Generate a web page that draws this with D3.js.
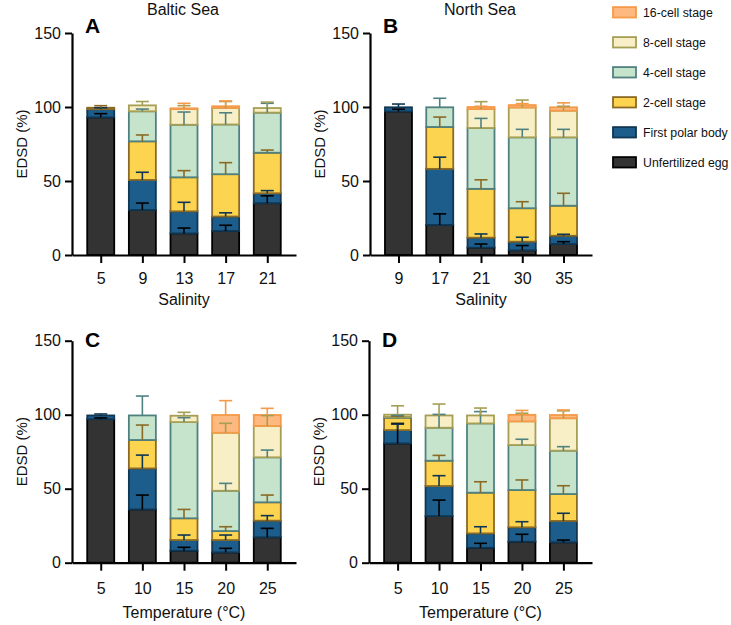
<!DOCTYPE html>
<html>
<head>
<meta charset="utf-8">
<script src="https://cdn.jsdelivr.net/npm/d3@7"></script>
<style>
  body { margin: 0; background: #fff; }
  svg { display: block; font-family: "Liberation Sans", Arial, sans-serif; }
</style>
</head>
<body>
<div id="chart"></div>
<script>
// stages, bottom to top
const stageNames = ["Unfertilized egg", "First polar body", "2-cell stage", "4-cell stage", "8-cell stage", "16-cell stage"];
const stageKeys = ["unf", "fpb", "c2", "c4", "c8", "c16"];
const stageFill = ["#333333", "#1d5d8c", "#fdd450", "#c6e3cc", "#f8efc6", "#fdb97f"];
const stageStroke = ["#000000", "#0f3652", "#8a6a24", "#4f8181", "#a59f55", "#f59a48"];

// categories
const salinityBaltic = ["5", "9", "13", "17", "21"];
const salinityNorth = ["9", "17", "21", "30", "35"];
const temperatures = ["5", "10", "15", "20", "25"];

// panel A: Baltic Sea, salinity (one row per stage)
const valuesA = [
  [93, 30.4, 14.6, 16.2, 35],
  [5.5, 20.3, 14.9, 9.8, 6.7],
  [1, 26.1, 23, 28.6, 27.4],
  [0, 20.3, 35.5, 33.6, 27.1],
  [0, 4, 10.6, 11.2, 3.1],
  [0, 0, 0.5, 1.1, 0]
];
const errorsA = [
  [2.5, 4.7, 3.6, 3.9, 5],
  [1, 5.2, 6.1, 2.5, 1.8],
  [1.4, 4.3, 4.5, 7.8, 1.8],
  [0, 1.5, 8.6, 7.9, 6.3],
  [0, 2.6, 2.3, 4.3, 4],
  [0, 0, 3.4, 3.6, 0]
];

// panel B: North Sea, salinity
const valuesB = [
  [97, 20.3, 5, 3.2, 7.4],
  [2.8, 37.9, 6.7, 5.8, 5.6],
  [0, 28.3, 33, 22.6, 20.3],
  [0, 13.3, 41.1, 47.9, 46.2],
  [0, 0, 12.8, 20.2, 18],
  [0, 0, 1.4, 1.6, 2.3]
];
const errorsB = [
  [1.5, 7.5, 2.4, 3.2, 1.6],
  [2.2, 7.9, 2.5, 3, 1],
  [0, 6.7, 6.1, 4.4, 8.4],
  [0, 6.1, 6.5, 5.4, 5.4],
  [0, 0, 5, 5, 3],
  [0, 0, 0.5, 1, 3]
];

// panel C: Baltic Sea, temperature
const valuesC = [
  [97, 36, 8.1, 7, 17.2],
  [2.5, 27.7, 7.2, 8.3, 11.2],
  [0, 19.2, 14.7, 6.1, 12.4],
  [0, 16.6, 65, 27.2, 30.4],
  [0, 0, 4.3, 39.2, 21.2],
  [0, 0, 0, 12, 7.4]
];
const errorsC = [
  [0.8, 9.7, 2.3, 2.7, 6],
  [1, 9, 3.4, 3.4, 3.4],
  [0, 10.1, 6, 2.9, 4.9],
  [0, 13.1, 3, 5, 4.9],
  [0, 0, 2.3, 6.4, 7],
  [0, 0, 0, 9.7, 4.5]
];

// panel D: North Sea, temperature
const valuesD = [
  [80.6, 31.5, 10.1, 14.2, 13.8],
  [9, 20.3, 9.7, 9.7, 14.4],
  [8.4, 17.1, 27.5, 25.2, 18.2],
  [0.5, 22.3, 46.8, 30.4, 29.3],
  [1.5, 8.3, 5.4, 16, 21.9],
  [0, 0, 0, 4.4, 2.2]
];
const errorsD = [
  [13.5, 10.8, 3, 5, 1.5],
  [4, 7, 4.5, 3.8, 5.2],
  [1, 3.6, 7.4, 6.8, 5.6],
  [1, 9, 8, 3.9, 2.7],
  [6, 7.7, 5, 5.5, 5],
  [0, 0, 0, 3, 3.4]
];

const yTicks = [0, 50, 100, 150];

const width = 731, height = 625;
const svg = d3.select("#chart").append("svg")
  .attr("width", width)
  .attr("height", height);

const panels = [
  { letter: "A", title: "Baltic Sea", xLabel: "Salinity", cats: salinityBaltic, values: valuesA, errors: errorsA,
    left: 72, right: 296, top: 33, bottom: 255, tickPad: 18, xLabelY: 305 },
  { letter: "B", title: "North Sea", xLabel: "Salinity", cats: salinityNorth, values: valuesB, errors: errorsB,
    left: 370, right: 592, top: 33, bottom: 255, tickPad: 18, xLabelY: 305 },
  { letter: "C", title: null, xLabel: "Temperature (°C)", cats: temperatures, values: valuesC, errors: errorsC,
    left: 72, right: 296, top: 340.7, bottom: 562.7, tickPad: 20, xLabelY: 618 },
  { letter: "D", title: null, xLabel: "Temperature (°C)", cats: temperatures, values: valuesD, errors: errorsD,
    left: 369, right: 592, top: 340.7, bottom: 562.7, tickPad: 20, xLabelY: 618 }
];

const barWidth = 27;

panels.forEach(p => drawPanel(p));

function drawPanel(p) {
  const g = svg.append("g");

  const x = d3.scalePoint()
    .domain(p.cats)
    .range([p.left, p.right])
    .padding(0.69);

  const y = d3.scaleLinear()
    .domain([0, 150])
    .range([p.bottom, p.top]);

  // table for d3.stack
  const table = p.cats.map((c, i) => {
    const row = { cat: c };
    stageKeys.forEach((k, s) => row[k] = p.values[s][i]);
    return row;
  });
  const series = d3.stack().keys(stageKeys)(table);

  // bars
  series.forEach((ser, s) => {
    g.append("g")
      .selectAll("rect")
      .data(ser.filter(d => d[1] - d[0] > 0))
      .join("rect")
      .attr("x", d => x(d.data.cat) - barWidth / 2)
      .attr("y", d => y(d[1]))
      .attr("width", barWidth)
      .attr("height", d => y(d[0]) - y(d[1]))
      .attr("fill", stageFill[s])
      .attr("stroke", stageStroke[s])
      .attr("stroke-width", 1.8);
  });

  // error bars (upward from each segment top)
  series.forEach((ser, s) => {
    ser.forEach((d, i) => {
      const e = p.errors[s][i];
      if (!(e > 0) || d[1] - d[0] <= 0) return;
      const cx = x(d.data.cat);
      const eg = g.append("g")
        .attr("stroke", stageStroke[s])
        .attr("stroke-width", 1.6);
      eg.append("line")
        .attr("x1", cx).attr("x2", cx)
        .attr("y1", y(d[1])).attr("y2", y(d[1] + e));
      eg.append("line")
        .attr("x1", cx - 6.5).attr("x2", cx + 6.5)
        .attr("y1", y(d[1] + e)).attr("y2", y(d[1] + e));
    });
  });

  // axes
  const yAxis = g.append("g")
    .attr("transform", `translate(${p.left},0)`)
    .call(d3.axisLeft(y).tickValues(yTicks).tickSize(7).tickSizeOuter(0).tickPadding(4));

  const xAxis = g.append("g")
    .attr("transform", `translate(0,${p.bottom})`)
    .call(d3.axisBottom(x).tickSize(8).tickSizeOuter(0).tickPadding(p.tickPad - 8));

  [yAxis, xAxis].forEach(a => {
    a.select(".domain").attr("stroke", "#000").attr("stroke-width", 2.2);
    a.selectAll(".tick line").attr("stroke", "#000").attr("stroke-width", 2);
    a.selectAll(".tick text")
      .attr("fill", "#111")
      .style("font-size", "16px")
      .style("font-family", "'Liberation Sans', Arial, sans-serif");
  });
  xAxis.selectAll(".tick text").attr("dy", "0.71em");

  // y label
  g.append("text")
    .attr("transform", `translate(${p.left - 45},${(p.top + p.bottom) / 2}) rotate(-90)`)
    .attr("text-anchor", "middle")
    .style("font-size", "15px")
    .attr("fill", "#111")
    .text("EDSD (%)");

  // x label
  g.append("text")
    .attr("x", (p.left + p.right) / 2)
    .attr("y", p.xLabelY)
    .attr("text-anchor", "middle")
    .style("font-size", "16px")
    .attr("fill", "#111")
    .text(p.xLabel);

  // panel letter
  g.append("text")
    .attr("x", p.left + 13)
    .attr("y", p.top + (p.title ? 0 : 6))
    .style("font-size", "21px")
    .style("font-weight", "bold")
    .attr("fill", "#000")
    .text(p.letter);

  if (p.title) {
    g.append("text")
      .attr("x", (p.left + p.right) / 2 - 1)
      .attr("y", 14.5)
      .attr("text-anchor", "middle")
      .style("font-size", "16px")
      .attr("fill", "#111")
      .text(p.title);
  }
}

// legend, top entry is 16-cell stage
const legend = svg.append("g").attr("transform", "translate(613,12.3)");
const legendOrder = d3.range(stageNames.length).reverse();
legendOrder.forEach((s, j) => {
  const row = legend.append("g").attr("transform", `translate(0,${j * 30})`);
  row.append("rect")
    .attr("x", 0).attr("y", -5.2)
    .attr("width", 23).attr("height", 10.4)
    .attr("fill", stageFill[s])
    .attr("stroke", stageStroke[s])
    .attr("stroke-width", 1.8);
  row.append("text")
    .attr("x", 30).attr("y", 4.5)
    .style("font-size", "12.3px")
    .attr("fill", "#111")
    .text(stageNames[s]);
});
</script>
</body>
</html>
